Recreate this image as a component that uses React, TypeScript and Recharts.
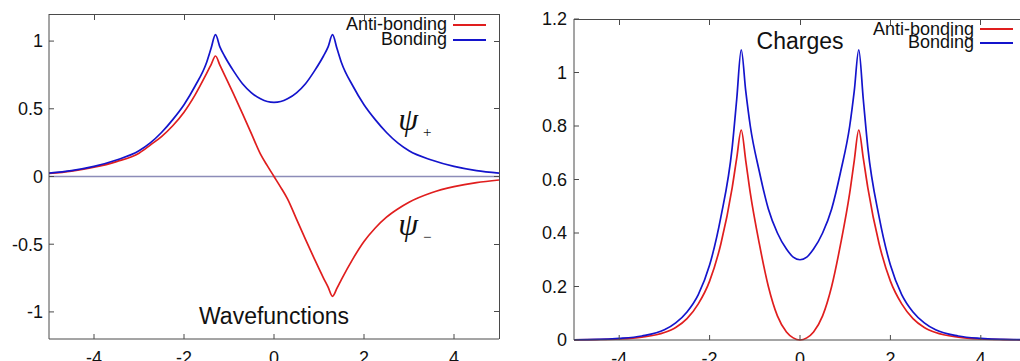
import { LineChart, Line, XAxis, YAxis, ReferenceLine, ReferenceDot, Legend } from "recharts";

// sample positions along the molecular axis
const xs = [-5, -4.5, -4, -3.5, -3, -2.75, -2.5, -2.25, -2, -1.75, -1.5, -1.4, -1.3, -1.2, -1.1, -0.9, -0.7, -0.5, -0.3, -0.15, 0,
  0.15, 0.3, 0.5, 0.7, 0.9, 1.1, 1.2, 1.3, 1.4, 1.5, 1.75, 2, 2.25, 2.5, 2.75, 3, 3.5, 4, 4.5, 5];

// left panel: wavefunctions
const waveBonding = [0.025, 0.044, 0.075, 0.122, 0.19, 0.248, 0.325, 0.42, 0.53, 0.67, 0.84, 0.945, 1.047, 0.955, 0.89, 0.78, 0.685, 0.618, 0.574, 0.554, 0.548,
  0.554, 0.574, 0.618, 0.685, 0.78, 0.89, 0.955, 1.047, 0.945, 0.84, 0.67, 0.53, 0.42, 0.325, 0.248, 0.19, 0.122, 0.075, 0.044, 0.025];
const waveAnti = [0.022, 0.04, 0.068, 0.11, 0.172, 0.232, 0.295, 0.375, 0.475, 0.605, 0.76, 0.825, 0.89, 0.82, 0.75, 0.61, 0.465, 0.315, 0.165, 0.08, 0,
  -0.08, -0.165, -0.315, -0.465, -0.61, -0.75, -0.815, -0.885, -0.825, -0.76, -0.61, -0.48, -0.38, -0.3, -0.24, -0.19, -0.12, -0.075, -0.045, -0.026];

// right panel: charges
const chargeBonding = [0.001, 0.002, 0.006, 0.015, 0.038, 0.064, 0.105, 0.17, 0.28, 0.46, 0.72, 0.9, 1.085, 0.93, 0.8, 0.63, 0.49, 0.4, 0.34, 0.31, 0.3,
  0.31, 0.34, 0.4, 0.49, 0.63, 0.8, 0.93, 1.085, 0.9, 0.72, 0.46, 0.28, 0.17, 0.105, 0.064, 0.038, 0.015, 0.006, 0.002, 0.001];
const chargeAnti = [0.0005, 0.0015, 0.004, 0.011, 0.028, 0.047, 0.08, 0.135, 0.22, 0.36, 0.57, 0.68, 0.785, 0.67, 0.55, 0.36, 0.2, 0.09, 0.03, 0.008, 0,
  0.008, 0.03, 0.09, 0.2, 0.36, 0.55, 0.67, 0.785, 0.68, 0.57, 0.36, 0.22, 0.135, 0.08, 0.047, 0.028, 0.011, 0.004, 0.0015, 0.0005];

const xTicks = [-4, -2, 0, 2, 4];
const waveTicks = [-1, -0.5, 0, 0.5, 1];
const chargeTicks = [0, 0.2, 0.4, 0.6, 0.8, 1, 1.2];

const RED = "#e01e1e";
const BLUE = "#1414cc";
const FRAME = "#4a4a4a";
const FONT = "'Liberation Sans', Arial, sans-serif";

const waveData = xs.map((x, i) => ({ x, anti: waveAnti[i], bond: waveBonding[i] }));
const chargeData = xs.map((x, i) => ({ x, anti: chargeAnti[i], bond: chargeBonding[i] }));

const tickStyle = { fill: "#111", fontSize: 18, fontFamily: FONT };

function makeLegend(rowH: number) {
  return ({ payload }: any) => (
    <div style={{ fontFamily: FONT, fontSize: 18, color: "#111" }}>
      {(payload || []).filter((p: any) => p.type !== "none").map((p: any) => (
        <div key={p.value} style={{ display: "flex", justifyContent: "flex-end", alignItems: "center", height: rowH, lineHeight: `${rowH}px` }}>
          <span>{p.value}</span>
          <span style={{ display: "inline-block", width: 33, height: 2, background: p.color, marginLeft: 6 }} />
        </div>
      ))}
    </div>
  );
}

const Title = (text: string) => (props: any) => (
  <text x={props.cx} y={props.cy} textAnchor="middle" dominantBaseline="central" fontFamily={FONT} fontSize={23} fill="#111">
    {text}
  </text>
);

const Psi = (sub: string) => (props: any) => (
  <text x={props.cx} y={props.cy} fontFamily="'Liberation Serif', 'Times New Roman', serif" fontStyle="italic" fontSize={32} fill="#111">
    ψ
    <tspan dx={5} dy={7} fontSize={15} fontStyle="normal">{sub}</tspan>
  </text>
);

// gnuplot style box edges (top and right) with small inward ticks, laid over a plot area
function BoxFrame({ left, top, width, height, yMin, yMax, yTicks }:
  { left: number; top: number; width: number; height: number; yMin: number; yMax: number; yTicks: number[] }) {
  const sx = (v: number) => ((v + 5) / 10) * width;
  const sy = (v: number) => ((yMax - v) / (yMax - yMin)) * height;
  return (
    <div style={{
      position: "absolute", left, top: top - 0.5, width: width + 0.5, height, zIndex: 10, pointerEvents: "none",
      borderTop: `1px solid ${FRAME}`, borderRight: `1px solid ${FRAME}`, boxSizing: "border-box",
    }}>
      {xTicks.map((t) => (
        <div key={`x${t}`} style={{ position: "absolute", left: sx(t) - 0.5, top: 0, width: 1, height: 5, background: FRAME }} />
      ))}
      {yTicks.map((t) => (
        <div key={`y${t}`} style={{ position: "absolute", right: 0, top: sy(t) - 1, width: 5, height: 1, background: FRAME }} />
      ))}
    </div>
  );
}

export default function App() {
  return (
    <div style={{ position: "absolute", left: 0, top: 0, width: 1020, height: 361, overflow: "hidden", background: "#fff" }}>
      {/* Wavefunctions */}
      <div style={{ position: "absolute", left: 0, top: 0 }}>
        <LineChart width={510} height={361} data={waveData} margin={{ top: 14, right: 11, bottom: 0, left: 0 }}>
          <XAxis dataKey="x" type="number" domain={[-5, 5]} ticks={xTicks} height={22} stroke={FRAME}
            tickSize={-5} tickMargin={17} tick={tickStyle} />
          <YAxis type="number" domain={[-1.2, 1.2]} ticks={waveTicks} width={49} stroke={FRAME}
            tickSize={-5} tickMargin={11} tick={tickStyle} />
          <ReferenceLine y={0} stroke="#8c8cb8" strokeWidth={1.5} />
          <Line dataKey="anti" name="Anti-bonding" type="monotone" stroke={RED} strokeWidth={1.7} dot={false} isAnimationActive={false} />
          <Line dataKey="bond" name="Bonding" type="monotone" stroke={BLUE} strokeWidth={1.7} dot={false} isAnimationActive={false} />
          <ReferenceDot x={0} y={-1.032} r={0} shape={Title("Wavefunctions")} />
          <ReferenceDot x={2.76} y={0.346} r={0} shape={Psi("+")} />
          <ReferenceDot x={2.76} y={-0.43} r={0} shape={Psi("−")} />
          <Legend layout="vertical" align="center" verticalAlign="middle" content={makeLegend(15)}
            wrapperStyle={{ top: 17, left: 0, width: 486, height: 30 }} />
        </LineChart>
      </div>

      {/* Charges */}
      <div style={{ position: "absolute", left: 510, top: 0 }}>
        <LineChart width={516} height={361} data={chargeData} margin={{ top: 19, right: 0, bottom: 0, left: 0 }}>
          <XAxis dataKey="x" type="number" domain={[-5, 5]} ticks={xTicks} height={21} stroke={FRAME}
            tickSize={-5} tickMargin={17} tick={tickStyle} />
          <YAxis type="number" domain={[0, 1.2]} ticks={chargeTicks} width={64} stroke={FRAME}
            tickSize={-5} tickMargin={12} tick={tickStyle} />
          <Line dataKey="anti" name="Anti-bonding" type="monotone" stroke={RED} strokeWidth={1.7} dot={false} isAnimationActive={false} />
          <Line dataKey="bond" name="Bonding" type="monotone" stroke={BLUE} strokeWidth={1.7} dot={false} isAnimationActive={false} />
          <ReferenceDot x={0} y={1.118} r={0} shape={Title("Charges")} />
          <Legend layout="vertical" align="center" verticalAlign="middle" content={makeLegend(13.4)}
            wrapperStyle={{ top: 22.6, left: 0, width: 503, height: 27 }} />
        </LineChart>
      </div>

      {/* box borders laid over both plots */}
      <BoxFrame left={49} top={14} width={450} height={325} yMin={-1.2} yMax={1.2} yTicks={waveTicks} />
      <BoxFrame left={574} top={19} width={452} height={321} yMin={0} yMax={1.2} yTicks={chargeTicks} />
    </div>
  );
}
